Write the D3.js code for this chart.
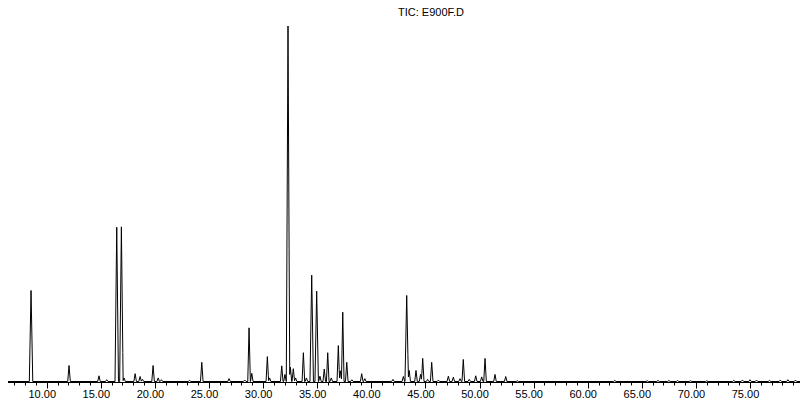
<!DOCTYPE html>
<html>
<head>
<meta charset="utf-8">
<script src="https://cdn.jsdelivr.net/npm/d3@7"></script>
<style>
  html, body { margin: 0; padding: 0; background: #fff; }
  svg { display: block; }
</style>
</head>
<body>
<svg id="chart" width="800" height="401"></svg>
<script>
// ---- data (retention time in minutes, relative abundance %) ----
const title = "TIC: E900F.D";
const peakTimes = [8.55, 12.06, 14.83, 15.55, 16.47, 16.90, 17.15, 18.17, 18.63, 18.85,
  19.83, 20.30, 20.60, 23.20, 24.33, 26.85, 28.30, 28.70, 28.95, 30.39,
  30.60, 31.72, 32.02, 32.30, 32.52, 32.79, 33.00, 33.72, 34.00, 34.49,
  34.95, 35.25, 35.65, 35.97, 36.30, 36.95, 37.15, 37.36, 37.73, 38.20,
  39.11, 39.40, 42.00, 42.96, 43.27, 43.50, 44.13, 44.55, 44.75, 45.20,
  45.58, 46.20, 47.12, 47.58, 48.20, 48.50, 49.05, 49.65, 50.20, 50.51,
  51.43, 52.42, 53.50, 62.50, 65.50, 66.50, 67.50, 68.30, 69.50, 71.00,
  73.50, 74.30, 75.00, 75.60, 76.80, 77.80, 78.50, 79.20];
const peakHeights = [25.6, 4.5, 1.6, 0.5, 43.4, 43.5, 1.0, 2.2, 1.4, 0.6,
  4.5, 1.0, 0.5, 0.3, 5.4, 0.8, 0.4, 15.1, 2.3, 7.0,
  1.0, 4.4, 2.0, 100, 4.0, 3.6, 1.0, 8.1, 1.0, 29.9,
  25.4, 1.5, 3.5, 8.1, 1.0, 10.1, 3.0, 19.5, 5.4, 0.5,
  2.2, 0.8, 0.6, 1.4, 24.2, 3.1, 3.1, 2.0, 6.5, 0.6,
  5.4, 0.4, 1.5, 1.2, 0.8, 6.2, 0.6, 1.6, 1.3, 6.5,
  2.0, 1.4, 0.2, 0.3, 0.2, 0.3, 0.3, 0.25, 0.2, 0.2,
  0.3, 0.4, 0.5, 0.4, 0.3, 0.4, 0.5, 0.4];
const peakHalfWidths = peakTimes.map((t, i) => peakHeights[i] > 20 ? 0.16 : 0.12);
const majorTicks = [10, 15, 20, 25, 30, 35, 40, 45, 50, 55, 60, 65, 70, 75];
const minorTicks = d3.range(7, 80, 1);
const timeDomain = [6.42, 79.62];

// ---- layout ----
const svg = d3.select("#chart");
const axisY = 382.5;
const x = d3.scaleLinear().domain(timeDomain).range([8, 800]);
const y = d3.scaleLinear().domain([0, 100]).range([381.5, 26]);

// trace vertices: baseline-apex-baseline for every peak, evaluated as max of triangles
const verts = [timeDomain[0], timeDomain[1]];
peakTimes.forEach((t, i) => { const w = peakHalfWidths[i]; verts.push(t - w, t, t + w); });
verts.sort((a, b) => a - b);
function val(t) {
  let v = 0;
  peakTimes.forEach((p, i) => {
    const w = peakHalfWidths[i];
    const d = Math.abs(t - p);
    if (d < w) v = Math.max(v, peakHeights[i] * (1 - d / w));
  });
  return v;
}
const trace = verts.filter(t => t >= timeDomain[0] && t <= timeDomain[1]).map(t => [t, val(t)]);

// axis line
svg.append("line")
  .attr("x1", 8).attr("x2", 800).attr("y1", axisY).attr("y2", axisY)
  .attr("stroke", "#000").attr("stroke-width", 1);

// ticks
svg.selectAll("line.minor").data(minorTicks.filter(t => !majorTicks.includes(t))).join("line")
  .attr("class", "minor")
  .attr("x1", d => Math.round(x(d)) + 0.5).attr("x2", d => Math.round(x(d)) + 0.5)
  .attr("y1", axisY).attr("y2", axisY + 3)
  .attr("stroke", "#000").attr("stroke-width", 1);
svg.selectAll("line.major").data(majorTicks).join("line")
  .attr("class", "major")
  .attr("x1", d => Math.round(x(d)) + 0.5).attr("x2", d => Math.round(x(d)) + 0.5)
  .attr("y1", axisY).attr("y2", axisY + 6)
  .attr("stroke", "#000").attr("stroke-width", 1);
svg.selectAll("text.tl").data(majorTicks).join("text")
  .attr("class", "tl")
  .attr("x", d => x(d) - 4.5).attr("y", 398)
  .attr("text-anchor", "middle")
  .attr("font-family", "Liberation Sans, Arial, sans-serif")
  .attr("font-size", 11)
  .attr("fill", "#000")
  .text(d => d.toFixed(2));

// trace
const line = d3.line().x(d => x(d[0])).y(d => y(d[1]));
svg.append("path").datum(trace)
  .attr("d", line)
  .attr("fill", "none")
  .attr("stroke", "#000")
  .attr("stroke-width", 1)
  .attr("stroke-linejoin", "round");

// title
svg.append("text")
  .attr("x", 431).attr("y", 16)
  .attr("text-anchor", "middle")
  .attr("font-family", "Liberation Sans, Arial, sans-serif")
  .attr("font-size", 11)
  .attr("fill", "#000")
  .text(title);
</script>
</body>
</html>
